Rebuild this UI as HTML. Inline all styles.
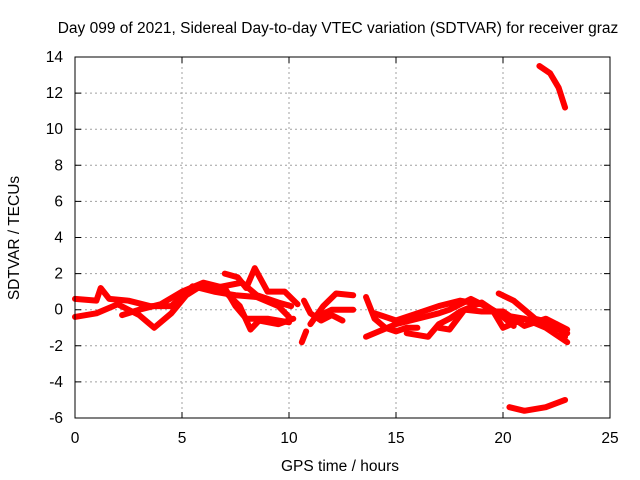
<!DOCTYPE html>
<html><head><meta charset="utf-8"><style>
body{margin:0;background:#fff;}
svg{display:block;font-family:"Liberation Sans",sans-serif;}
</style></head><body>
<svg id="chart" width="640" height="480">
<text x="338" y="33" font-size="15.5" text-anchor="middle">Day 099 of 2021, Sidereal Day-to-day VTEC variation (SDTVAR) for receiver graz</text>
<text x="340" y="471" font-size="15.5" text-anchor="middle">GPS time / hours</text>
<text x="19" y="238" font-size="15.5" text-anchor="middle" transform="rotate(-90 19 238)">SDTVAR / TECUs</text>
<g id="grid"></g><g id="ticks"></g><g id="series"></g>
<rect x="75" y="57" width="535" height="361" fill="none" stroke="#000" stroke-width="1"/>
</svg>
<script>
const xTicks=[0,5,10,15,20,25];
const yTicks=[14,12,10,8,6,4,2,0,-2,-4,-6];
const sA=[[0,0.6],[1,0.5],[1.2,1.2],[1.6,0.6],[2.5,0.5],[3.5,0.2],[4.5,0.2],[5.5,1.3],[6.5,1.0],[7.5,0.8],[8.5,0.7],[9.5,0.2],[10,-0.4]];
const sB=[[0,-0.4],[1,-0.2],[2,0.3],[3,-0.3],[3.7,-1.0],[4.5,-0.2],[5.2,0.8],[6,1.4],[7,1.0],[7.7,0.2],[8.2,-1.1],[8.6,-0.6],[9.5,-0.8],[10.2,-0.5]];
const sC=[[2.2,-0.3],[3,0],[4,0.3],[5,1.0],[6,1.5],[7,1.2],[7.5,0.2],[8,-0.5],[9,-0.5],[10,-0.7]];
const sD=[[7,2.0],[7.6,1.8],[8.0,1.2],[8.4,2.3],[9,1.0],[9.8,1.0],[10.4,0.3]];
const sE=[[6.5,1.2],[7.8,1.5],[8.5,0.8],[9.5,0.4],[10.1,0.2]];
const sF=[[10.6,-1.8],[10.8,-1.2]];
const sG=[[10.7,0.5],[11,-0.2],[11.5,-0.6],[12,-0.3],[12.5,-0.6]];
const sH=[[11,-0.8],[11.6,0.2],[12.2,0.9],[13,0.8]];
const sI=[[11.3,-0.4],[12,0],[13,0]];
const sJ=[[13.6,0.7],[14,-0.5],[14.5,-1.0],[15,-1.2],[15.5,-1.0],[16,-1.0]];
const sK=[[13.6,-1.5],[14.2,-1.2],[15,-0.8],[16,-0.5],[17,-0.2],[17.5,0.0],[18.5,0.6],[19.5,0.0],[20,-1.0],[21,-0.5],[22,-0.8],[23,-1.3]];
const sL=[[14,-0.2],[15,-0.6],[16,-0.2],[17,0.2],[18,0.5],[19,0.3],[20,-0.3],[21,-0.5],[22,-1.0],[23,-1.8]];
const sM=[[15.5,-1.3],[16.5,-1.5],[17,-0.8],[17.5,-0.5],[18,-0.1],[19,0.4],[20,-0.4],[20.5,-0.9]];
const sN=[[17,-1.0],[17.5,-1.1],[18.2,0.0],[19,-0.1],[20,-0.1],[21,-0.9],[22,-0.5],[23,-1.1]];
const sO=[[19.8,0.9],[20.5,0.5],[21.5,-0.5],[22.5,-0.8],[22.9,-1.5]];
const sP=[[20.3,-5.4],[21,-5.6],[22,-5.4],[22.9,-5.0]];
const sQ=[[21.7,13.5],[22.2,13.1],[22.6,12.3],[22.9,11.2]];
const allSeries=[sA,sB,sC,sD,sE,sF,sG,sH,sI,sJ,sK,sL,sM,sN,sO,sP,sQ];
const NS="http://www.w3.org/2000/svg";
function xs(t){return 75+t*(535/25);}
function ys(v){return 418-(v+6)*(361/20);}
const grid=document.getElementById('grid'),ticks=document.getElementById('ticks'),ser=document.getElementById('series');
xTicks.forEach(t=>{
  const x=xs(t);
  if(t>0&&t<25){const l=document.createElementNS(NS,'line');
  l.setAttribute('x1',x);l.setAttribute('x2',x);l.setAttribute('y1',57);l.setAttribute('y2',418);
  l.setAttribute('stroke','#a0a0a0');l.setAttribute('stroke-dasharray','2,3');
  
  
  grid.appendChild(l);}
  const tk=document.createElementNS(NS,'path');
  tk.setAttribute('d',`M${x},418v-6M${x},57v6`);tk.setAttribute('stroke','#000');
  
  
  ticks.appendChild(tk);
  const tx=document.createElementNS(NS,'text');
  tx.setAttribute('x',x);tx.setAttribute('y',443);tx.setAttribute('font-size','15.5');tx.setAttribute('text-anchor','middle');
  tx.textContent=t;
  
  
  ticks.appendChild(tx);
});
yTicks.forEach(v=>{
  const y=ys(v);
  if(v>-6&&v<14){const l=document.createElementNS(NS,'line');
  l.setAttribute('x1',75);l.setAttribute('x2',610);l.setAttribute('y1',y);l.setAttribute('y2',y);
  l.setAttribute('stroke','#a0a0a0');l.setAttribute('stroke-dasharray','2,3');
  
  
  grid.appendChild(l);}
  const tk=document.createElementNS(NS,'path');
  tk.setAttribute('d',`M75,${y}h6M610,${y}h-6`);tk.setAttribute('stroke','#000');
  
  
  ticks.appendChild(tk);
  const tx=document.createElementNS(NS,'text');
  tx.setAttribute('x',63);tx.setAttribute('y',y+5);tx.setAttribute('font-size','15.5');tx.setAttribute('text-anchor','end');
  tx.textContent=v;
  
  
  ticks.appendChild(tx);
});
allSeries.forEach((s,i)=>{
  const p=document.createElementNS(NS,'polyline');
  p.setAttribute('points',s.map(d=>xs(d[0])+','+ys(d[1])).join(' '));
  p.setAttribute('fill','none');p.setAttribute('stroke','#ff0000');p.setAttribute('stroke-width','6');
  p.setAttribute('stroke-linejoin','round');p.setAttribute('stroke-linecap','round');
  
  
  ser.appendChild(p);
});
</script>
</body></html>
